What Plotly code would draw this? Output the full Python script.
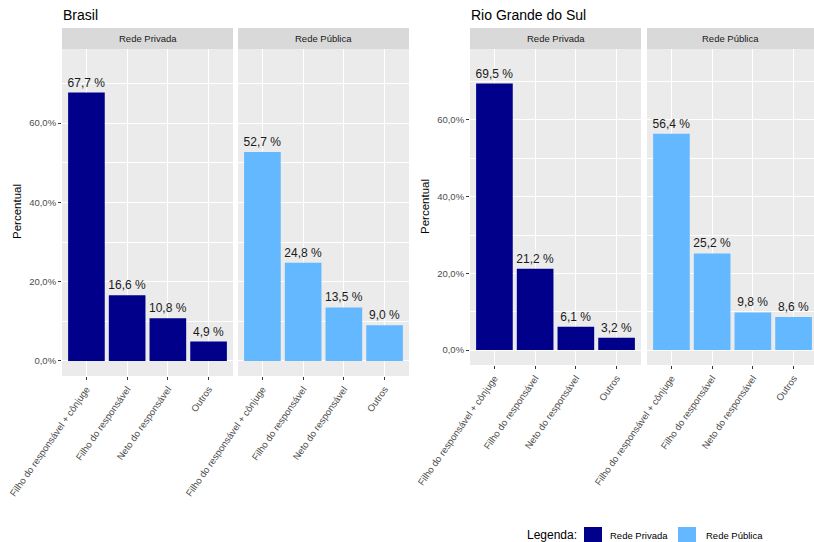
import plotly.graph_objects as go

W, H = 814, 542

categorias = ["Filho do responsável + cônjuge", "Filho do responsável",
              "Neto do responsável", "Outros"]
brasil_privada = [67.7, 16.6, 10.8, 4.9]
brasil_publica = [52.7, 24.8, 13.5, 9.0]
rs_privada = [69.5, 21.2, 6.1, 3.2]
rs_publica = [56.4, 25.2, 9.8, 8.6]
y_ticks = [0, 20, 40, 60]
y_ticklabels = ["0,0%", "20,0%", "40,0%", "60,0%"]
grupos = ["Brasil", "Rio Grande do Sul"]
redes = ["Rede Privada", "Rede Pública"]
cores = {"Rede Privada": "#00008B", "Rede Pública": "#63B8FF"}

FONT = "Liberation Sans, Arial, sans-serif"


def px_x(p):
    return p / W


def px_y(p):
    return 1 - p / H


# panel pixel boxes: (x0, x1, y0, y1)
panels = [
    (62, 233, 49, 376),
    (238, 409, 49, 376),
    (470, 641, 49, 365),
    (647, 814, 49, 365),
]
series = [brasil_privada, brasil_publica, rs_privada, rs_publica]
rede_of = ["Rede Privada", "Rede Pública", "Rede Privada", "Rede Pública"]
y_ranges = [(-3.8, 78.7), (-3.8, 78.7), (-3.9, 78.5), (-3.9, 78.5)]

fig = go.Figure()
layout = dict(
    width=W, height=H,
    margin=dict(l=0, r=0, t=0, b=0, autoexpand=False),
    paper_bgcolor="white", plot_bgcolor="#EBEBEB",
    showlegend=False, bargap=0.1,
    font=dict(family=FONT, color="#4D4D4D", size=9),
)
shapes = []
annotations = []
unit_px = 171 / 4.2

for i, (box, vals, rede, yr) in enumerate(zip(panels, series, rede_of, y_ranges)):
    n = i + 1
    xa = "x" if n == 1 else f"x{n}"
    ya = "y" if n == 1 else f"y{n}"
    x0, x1, y0, y1 = box
    width_units = (x1 - x0) / unit_px
    fig.add_trace(go.Bar(
        x=categorias, y=vals, xaxis=xa, yaxis=ya,
        marker=dict(color=cores[rede], line=dict(width=0)),
        width=0.9,
        text=[f"{v:.1f} %".replace(".", ",") for v in vals],
        textposition="outside", constraintext="none", cliponaxis=False,
        textfont=dict(size=12, color="#1A1A1A", family=FONT),
        name=rede,
    ))
    show_y = n in (1, 3)
    layout[f"xaxis{'' if n == 1 else n}"] = dict(
        domain=[px_x(x0), px_x(x1)], anchor=ya, automargin=False,
        range=[-0.6, -0.6 + width_units], type="category",
        showgrid=True, gridcolor="white", gridwidth=1.1,
        ticks="outside", ticklen=3, tickcolor="#333333", tickwidth=1,
        tickangle=-55, tickfont=dict(size=9.5, color="#4D4D4D", family=FONT),
        showline=False, zeroline=False, fixedrange=True,
    )
    layout[f"yaxis{'' if n == 1 else n}"] = dict(
        domain=[px_y(y1), px_y(y0)], anchor=xa, automargin=False,
        range=list(yr),
        tickvals=y_ticks, ticktext=y_ticklabels if show_y else [""] * 4,
        showticklabels=show_y,
        ticks="outside" if show_y else "", ticklen=3, tickcolor="#333333",
        tickfont=dict(size=9.5, color="#4D4D4D", family=FONT),
        showgrid=True, gridcolor="white", gridwidth=1.1,
        minor=dict(tickvals=[10, 30, 50, 70], showgrid=True,
                   gridcolor="white", gridwidth=0.55, ticks=""),
        zeroline=False, showline=False, fixedrange=True,
    )
    # strip
    shapes.append(dict(type="rect", xref="paper", yref="paper",
                       x0=px_x(x0), x1=px_x(x1), y0=px_y(y0), y1=px_y(28),
                       fillcolor="#D9D9D9", line=dict(width=0), layer="below"))
    annotations.append(dict(text=rede, xref="paper", yref="paper",
                            x=px_x((x0 + x1) / 2), y=px_y(38.5),
                            xanchor="center", yanchor="middle", showarrow=False,
                            font=dict(size=9.5, color="#1A1A1A", family=FONT)))

# group titles
for g, xpx in zip(grupos, [62, 470]):
    annotations.append(dict(text=g, xref="paper", yref="paper",
                            x=px_x(xpx - 1), y=px_y(15), xanchor="left",
                            yanchor="middle", showarrow=False,
                            font=dict(size=14, color="#000000", family=FONT)))
# y axis titles
for xpx, ypx in [(17, 212), (425, 207)]:
    annotations.append(dict(text="Percentual", xref="paper", yref="paper",
                            x=px_x(xpx), y=px_y(ypx), textangle=-90,
                            xanchor="center", yanchor="middle", showarrow=False,
                            font=dict(size=11.5, color="#000000", family=FONT)))

# legend
annotations.append(dict(text="Legenda:", xref="paper", yref="paper",
                        x=px_x(525), y=px_y(535), xanchor="left", yanchor="middle",
                        showarrow=False,
                        font=dict(size=12, color="#000000", family=FONT)))
for rede, bx, tx in [("Rede Privada", 584, 608), ("Rede Pública", 678, 704)]:
    shapes.append(dict(type="rect", xref="paper", yref="paper",
                       x0=px_x(bx), x1=px_x(bx + 18), y0=px_y(544), y1=px_y(527),
                       fillcolor=cores[rede], line=dict(width=0)))
    annotations.append(dict(text=rede, xref="paper", yref="paper",
                            x=px_x(tx), y=px_y(535), xanchor="left",
                            yanchor="middle", showarrow=False,
                            font=dict(size=9.5, color="#000000", family=FONT)))

layout["shapes"] = shapes
layout["annotations"] = annotations
fig.update_layout(**layout)
fig.write_html("out.html",
               config={"displayModeBar": False},
               post_script="document.body.style.margin='0';"
                           "document.body.style.overflow='hidden';")
